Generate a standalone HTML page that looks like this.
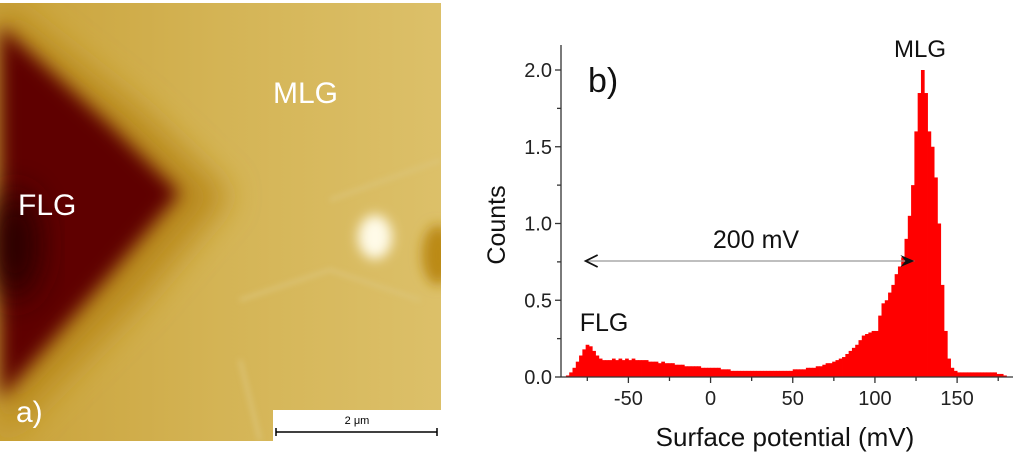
<!DOCTYPE html>
<html><head><meta charset="utf-8"><style>
body{margin:0;width:1024px;height:453px;background:#fff;overflow:hidden;font-family:"Liberation Sans",sans-serif}
svg{position:absolute;left:0;top:0}
</style></head><body>
<svg width="1024" height="453">
<defs>
<filter id="b1" x="-50%" y="-50%" width="200%" height="200%"><feGaussianBlur stdDeviation="16"/></filter>
<filter id="b2" x="-50%" y="-50%" width="200%" height="200%"><feGaussianBlur stdDeviation="9"/></filter>
<filter id="b4" x="-50%" y="-50%" width="200%" height="200%"><feGaussianBlur stdDeviation="6"/></filter>
<filter id="b3" x="-50%" y="-50%" width="200%" height="200%"><feGaussianBlur stdDeviation="3"/></filter>
<clipPath id="ic"><rect x="0" y="3" width="441" height="438"/></clipPath>
<linearGradient id="bg" x1="0" y1="0" x2="1" y2="0"><stop offset="0" stop-color="#c9a23a"/><stop offset="0.5" stop-color="#d4b455"/><stop offset="1" stop-color="#dcc069"/></linearGradient>
</defs>
<g clip-path="url(#ic)">
<rect x="0" y="3" width="441" height="438" fill="url(#bg)"/>
<polygon points="0,0 140,110 230,195 140,300 0,440" fill="#b98a1e" filter="url(#b1)"/>
<polygon points="0,25 110,125 180,193 110,275 0,400" fill="#5e0606" filter="url(#b2)"/>
<ellipse cx="15" cy="245" rx="25" ry="55" fill="#2a0000" filter="url(#b1)"/>
<path d="M240,300 L330,270 L420,300 M240,360 L260,440 M330,200 L441,160" stroke="#dcc57a" stroke-width="3" fill="none" filter="url(#b3)"/>
<ellipse cx="375" cy="237" rx="17" ry="22" fill="#fffbe8" filter="url(#b4)"/>
<ellipse cx="438" cy="255" rx="16" ry="30" fill="#bb8a14" filter="url(#b4)"/>
<text x="18" y="215" font-size="30" fill="#fff">FLG</text>
<text x="273" y="103" font-size="30" fill="#fff">MLG</text>
<text x="16" y="422" font-size="30" fill="#fff">a)</text>
<g>
<rect x="273" y="410" width="168" height="31" fill="#fff"/>
<text x="357" y="424" font-size="11" text-anchor="middle" fill="#000">2 μm</text>
<line x1="276" y1="432" x2="437" y2="432" stroke="#000" stroke-width="1.5"/>
<line x1="276" y1="428" x2="276" y2="436" stroke="#000" stroke-width="1.5"/>
<line x1="437" y1="428" x2="437" y2="436" stroke="#000" stroke-width="1.5"/>
</g>
</g>
<g id="chart"></g>
</svg>
<script>
const binStart=-88, binWidth=2;
const counts=[0.01,0.03,0.06,0.10,0.14,0.18,0.21,0.20,0.17,0.14,0.12,0.11,0.11,0.11,0.12,0.11,0.12,0.11,0.12,0.11,0.12,0.11,0.11,0.11,
0.11,0.10,0.10,0.10,0.09,0.10,0.09,0.09,0.09,0.08,0.08,0.08,0.07,0.07,0.07,0.07,0.07,0.06,0.06,0.06,
0.06,0.06,0.06,0.05,0.05,0.05,0.04,0.04,0.04,0.04,0.04,0.04,0.04,0.04,0.04,0.04,0.04,0.04,0.04,0.04,0.04,0.04,0.04,0.04,0.04,
0.05,0.05,0.05,0.05,0.06,0.06,0.06,0.07,0.07,0.08,0.09,0.09,0.10,0.11,0.12,0.13,0.15,0.17,0.19,0.21,0.24,0.27,0.28,0.29,0.30,
0.30,0.40,0.48,0.50,0.55,0.60,0.67,0.72,0.78,0.90,1.05,1.25,1.60,1.85,2.00,1.85,1.60,1.50,1.30,1.00,0.60,0.30,0.12,0.06,0.04,
0.03,0.03,0.03,0.03,0.03,0.03,0.03,0.03,0.03,0.03,0.03,0.03,0.02,0.02,0.01,0];
const xTicks=[-50,0,50,100,150];
const yTicks=[0,0.5,1.0,1.5,2.0];
const xMin=-91,xMax=184;
const L=561,R=1013,B=377,T=45;
const X=v=>L+(v-xMin)/(xMax-xMin)*(R-L);
const Y=v=>B-(v/2.0)*(B-70);
const g=document.getElementById('chart');
const NS='http://www.w3.org/2000/svg';
function mk(t,a,p){const e=document.createElementNS(NS,t);for(const k in a)e.setAttribute(k,a[k]);(p||g).appendChild(e);return e;}
const bars=mk('g',{});


counts.forEach((c,i)=>{
 const x0=X(binStart+i*binWidth),x1=X(binStart+(i+1)*binWidth);
 const r=mk('rect',{x:x0,y:Y(c),width:x1-x0+0.4,height:B-Y(c),fill:'#ff0000'},bars);
 
 
});
const ax=mk('g',{stroke:'#333','stroke-width':1.3});


mk('line',{x1:L,y1:T,x2:L,y2:B},ax);
mk('line',{x1:L,y1:B,x2:R,y2:B},ax);
yTicks.forEach(v=>{mk('line',{x1:L-6,y1:Y(v),x2:L,y2:Y(v)},ax);
 const t=mk('text',{x:L-9,y:Y(v)+7,'font-size':20,'text-anchor':'end',fill:'#222',stroke:'none'});t.textContent=v.toFixed(1);
 
 
 if(v<2)mk('line',{x1:L-4,y1:Y(v+0.25),x2:L,y2:Y(v+0.25)},ax);});
xTicks.forEach(v=>{mk('line',{x1:X(v),y1:B,x2:X(v),y2:B+6},ax);
 mk('line',{x1:X(v-25),y1:B,x2:X(v-25),y2:B+4},ax);
 const t=mk('text',{x:X(v),y:B+28,'font-size':20,'text-anchor':'middle',fill:'#222',stroke:'none'});t.textContent=v;
 
 });
mk('line',{x1:X(175),y1:B,x2:X(175),y2:B+4},ax);
function txt(x,y,s,fs,name,extra){const t=mk('text',Object.assign({x:x,y:y,'font-size':fs,fill:'#111'},extra||{}));t.textContent=s;
 
 return t;}
txt(785,446,'Surface potential (mV)',26,'x-axis-title',{'text-anchor':'middle'});
txt(0,0,'Counts',25,'y-axis-title',{'text-anchor':'middle',transform:'translate(505,225) rotate(-90)'});
txt(588,92,'b)',34,'panel-b-label');
txt(920,57,'MLG',24,'mlg-label',{'text-anchor':'middle'});
txt(604,331,'FLG',25,'flg-label',{'text-anchor':'middle'});
txt(756,248,'200 mV',25,'span-label',{'text-anchor':'middle'});
const ar=mk('g',{});


mk('line',{x1:X(-76),y1:261,x2:X(124),y2:261,stroke:'#999','stroke-width':1.2},ar);
mk('path',{d:`M${X(-76)+12},255 L${X(-76)},261 L${X(-76)+12},267`,stroke:'#111','stroke-width':1.8,fill:'none'},ar);
mk('path',{d:`M${X(124)-14},255 L${X(124)},261 L${X(124)-14},267 L${X(124)-9},261Z`,fill:'#111'},ar);
</script>
</body></html>
